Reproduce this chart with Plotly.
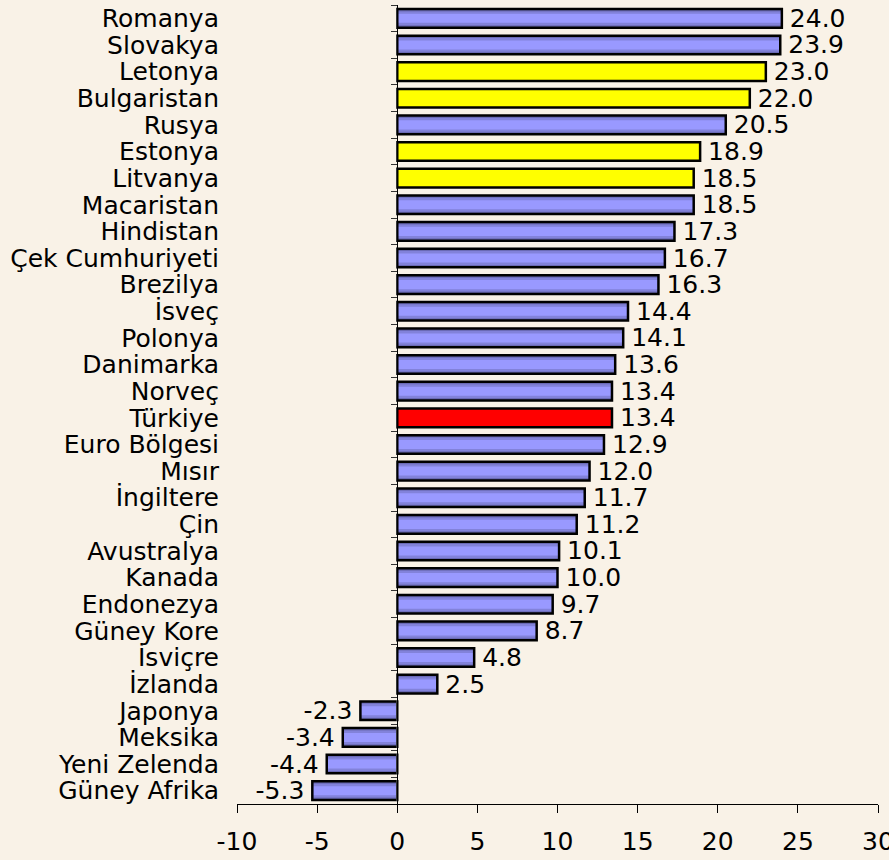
import plotly.graph_objects as go

countries = ["Romanya", "Slovakya", "Letonya", "Bulgaristan", "Rusya", "Estonya",
             "Litvanya", "Macaristan", "Hindistan", "Çek Cumhuriyeti", "Brezilya",
             "İsveç", "Polonya", "Danimarka", "Norveç", "Türkiye", "Euro Bölgesi",
             "Mısır", "İngiltere", "Çin", "Avustralya", "Kanada", "Endonezya",
             "Güney Kore", "İsviçre", "İzlanda", "Japonya", "Meksika",
             "Yeni Zelenda", "Güney Afrika"]
values = [24.0, 23.9, 23.0, 22.0, 20.5, 18.9, 18.5, 18.5, 17.3, 16.7, 16.3,
          14.4, 14.1, 13.6, 13.4, 13.4, 12.9, 12.0, 11.7, 11.2, 10.1, 10.0, 9.7,
          8.7, 4.8, 2.5, -2.3, -3.4, -4.4, -5.3]
groups = ["b", "b", "y", "y", "b", "y", "y", "b", "b", "b", "b", "b", "b", "b",
          "b", "r", "b", "b", "b", "b", "b", "b", "b", "b", "b", "b", "b", "b",
          "b", "b"]
x_ticks = [-10, -5, 0, 5, 10, 15, 20, 25, 30]

FONT = "'DejaVu Sans', Tahoma, sans-serif"
FS = 25
BG = "#F9F2E7"

outer = {"b": "#6A6AB5", "y": "#FFFF00", "r": "#FF0000"}
mid = {"b": "#8282DA", "y": "#FFFF00", "r": "#FF0000"}
inner = {"b": "#9999FF", "y": "#FFFF00", "r": "#FF0000"}

labels = [("\u2009" + f"{v:.1f}") if v >= 0 else (f"{v:.1f}" + "\u2009") for v in values]

fig = go.Figure()
for cmap, w in [(outer, 0.70), (mid, 0.52), (inner, 0.34)]:
    fig.add_trace(go.Bar(
        x=values, y=countries, orientation="h", width=w,
        marker=dict(color=[cmap[g] for g in groups], line=dict(width=0)),
        hoverinfo="skip", showlegend=False))
fig.add_trace(go.Bar(
    x=values, y=countries, orientation="h", width=0.70,
    marker=dict(color="rgba(0,0,0,0)", line=dict(color="#000000", width=2.5)),
    text=labels, textposition="outside",
    textfont=dict(family=FONT, size=FS, color="#000000"),
    constraintext="none", cliponaxis=False, showlegend=False))
# invisible trace to carry the category labels on the left
fig.add_trace(go.Bar(x=[0] * len(values), y=countries, orientation="h",
                     yaxis="y2", marker=dict(color="rgba(0,0,0,0)"),
                     hoverinfo="skip", showlegend=False))

fig.update_layout(
    width=889, height=860,
    margin=dict(l=237, r=11, t=5, b=56, autoexpand=False),
    paper_bgcolor=BG, plot_bgcolor=BG,
    barmode="overlay",
    font=dict(family=FONT, size=FS, color="#000000"),
    xaxis=dict(range=[-10, 30], tickvals=x_ticks, ticktext=[str(t) for t in x_ticks],
               showgrid=False, zeroline=False, showline=True, linecolor="#000000",
               linewidth=1, ticks="outside", ticklen=8, tickcolor="#000000",
               tickfont=dict(family=FONT, size=FS, color="#000000"),
               ticklabelstandoff=7, ticklabeloverflow="allow", automargin=False),
    yaxis=dict(type="category", categoryorder="array", categoryarray=countries,
               autorange="reversed", anchor="free", position=0.25,
               showticklabels=False, showgrid=False, zeroline=False,
               showline=True, linecolor="#000000", linewidth=1,
               ticks="outside", ticklen=6, tickcolor="#333333",
               tickson="boundaries", automargin=False),
    yaxis2=dict(type="category", categoryorder="array", categoryarray=countries,
                autorange="reversed", overlaying="y", anchor="free", position=0,
                side="left", showgrid=False, zeroline=False, showline=False,
                ticks="", tickmode="array", tickvals=countries, ticktext=countries,
                tickfont=dict(family=FONT, size=FS, color="#000000"),
                ticklabelstandoff=18, automargin=False),
)

fig.write_html("out.html", config={"displayModeBar": False},
               post_script="document.body.style.margin='0';"
                           "document.body.style.background='" + BG + "';")
